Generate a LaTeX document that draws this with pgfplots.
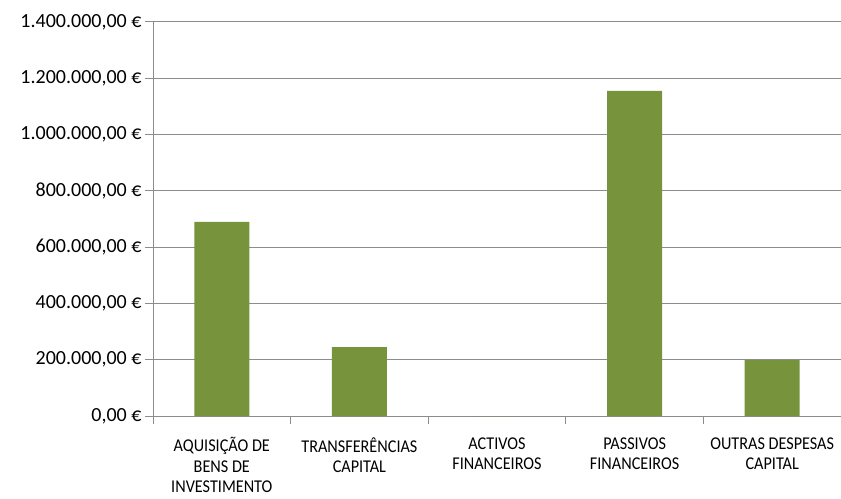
\documentclass[border=0pt]{standalone}
\usepackage{pgfplots}
\pgfplotsset{compat=1.18}
\usepackage{fontspec}
\setmainfont{Carlito}
\usepackage{graphicx}
\definecolor{barg}{HTML}{77933C}
\definecolor{bare}{HTML}{A6BC7E}
\definecolor{gridc}{HTML}{8C8C8C}
\newcommand{\cl}[1]{\scalebox{0.9}[1]{#1}}
\begin{document}
\begin{tikzpicture}
\begin{axis}[
 width=688pt, height=394pt, scale only axis,
 xmin=-0.5, xmax=4.5, ymin=0, ymax=1400000,
 scaled y ticks=false,
 axis x line=bottom, axis y line=left,
 axis line style={draw=gridc, line width=1pt, -},
 ymajorgrids, grid style={draw=gridc, line width=1pt},
 ytick={0,200000,400000,600000,800000,1000000,1200000,1400000},
 yticklabels={{0,00 €},{200.000,00 €},{400.000,00 €},{600.000,00 €},{800.000,00 €},{1.000.000,00 €},{1.200.000,00 €},{1.400.000,00 €}},
 tick align=outside, major tick length=8pt,
 ytick style={draw=gridc, line width=1pt},
 xtick style={draw=none},
 xtick={0,1,2,3,4},
 xticklabels={
  {\cl{AQUISIÇÃO DE}\\\cl{BENS DE}\\\cl{INVESTIMENTO}},
  {\cl{TRANSFERÊNCIAS}\\\cl{CAPITAL}},
  {\cl{ACTIVOS}\\\cl{FINANCEIROS}},
  {\cl{PASSIVOS}\\\cl{FINANCEIROS}},
  {\cl{OUTRAS DESPESAS}\\\cl{CAPITAL}}},
 extra x ticks={-0.5,0.5,1.5,2.5,3.5,4.5},
 extra x tick labels={},
 extra x tick style={xtick style={draw=gridc, line width=1pt}},
 yticklabel style={font=\fontsize{20}{24}\selectfont, text=black},
 xticklabel style={font=\fontsize{18}{20.5}\selectfont, align=center, anchor=north, yshift=-10pt, text=black},
 ybar, bar width=0.4,
]
\addplot[fill=barg, draw=none] coordinates {(0,690000) (1,245000) (2,0) (3,1155000) (4,199000)};
\coordinate (bl) at (rel axis cs:0,0);
\coordinate (tr) at (rel axis cs:1,1);
\end{axis}
\pgfresetboundingbox
\path[use as bounding box] ([shift={(-153pt,-82pt)}]bl) rectangle ([shift={(0pt,22pt)}]tr);
\end{tikzpicture}
\end{document}
